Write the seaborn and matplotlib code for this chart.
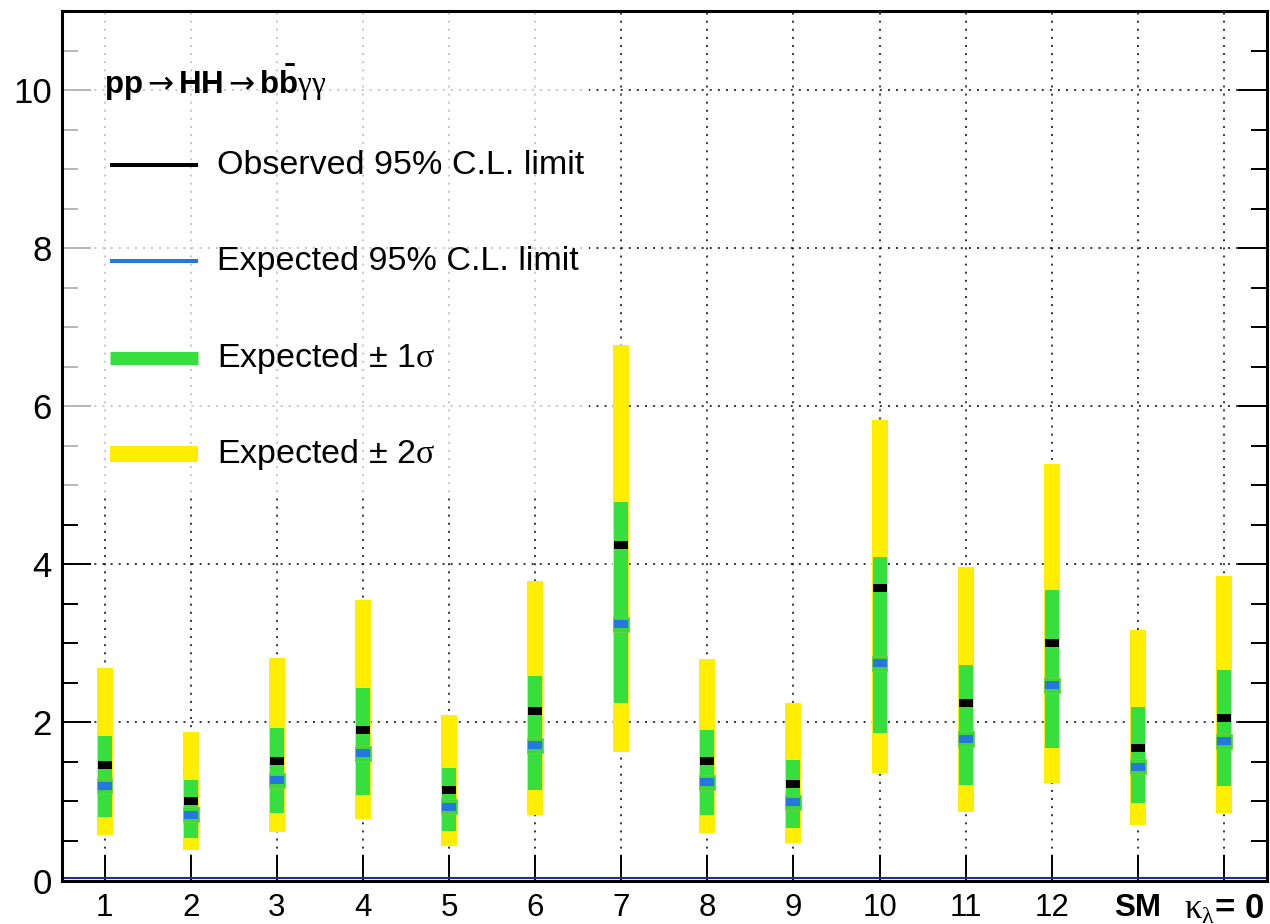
import numpy as np
import pandas as pd
import matplotlib
matplotlib.use("Agg")
import matplotlib.pyplot as plt
import seaborn as sns
from matplotlib.patches import Rectangle
from matplotlib.path import Path
from matplotlib.markers import MarkerStyle
from matplotlib.ticker import MultipleLocator

# ---------------- data ----------------
categories = ["1", "2", "3", "4", "5", "6", "7", "8", "9", "10", "11", "12",
              "SM", r"$\kappa_{\lambda}$= 0"]
observed = [1.46, 1.01, 1.51, 1.91, 1.14, 2.15, 4.25, 1.51, 1.22, 3.70, 2.25, 3.01, 1.68, 2.06]
expected = [1.20, 0.83, 1.27, 1.61, 0.93, 1.71, 3.24, 1.24, 0.99, 2.75, 1.79, 2.47, 1.44, 1.76]
exp_minus1 = [0.80, 0.54, 0.85, 1.08, 0.62, 1.15, 2.24, 0.83, 0.67, 1.87, 1.21, 1.68, 0.98, 1.20]
exp_plus1 = [1.83, 1.27, 1.93, 2.44, 1.42, 2.59, 4.79, 1.90, 1.52, 4.09, 2.72, 3.68, 2.19, 2.66]
exp_minus2 = [0.57, 0.39, 0.61, 0.78, 0.44, 0.83, 1.63, 0.60, 0.48, 1.36, 0.87, 1.23, 0.70, 0.86]
exp_plus2 = [2.69, 1.88, 2.82, 3.55, 2.10, 3.79, 6.78, 2.80, 2.24, 5.83, 3.96, 5.27, 3.17, 3.85]

legend_header = ("pp$\\mathsf{\\rightarrow}$HH$\\mathsf{\\rightarrow}$"
                 "b$\\mathbf{\\bar{b}}$$\\gamma\\gamma$")
legend_labels = ["Observed 95% C.L. limit", "Expected 95% C.L. limit",
                 "Expected \u00b1 1$\\sigma$", "Expected \u00b1 2$\\sigma$"]

# ---------------- style ----------------
sns.set_theme(style="ticks")
plt.rcParams["font.family"] = ["Liberation Sans", "DejaVu Sans"]
plt.rcParams["mathtext.fontset"] = "custom"
plt.rcParams["mathtext.rm"] = "Liberation Serif"
plt.rcParams["mathtext.it"] = "Liberation Serif"
plt.rcParams["mathtext.sf"] = "DejaVu Sans"
plt.rcParams["mathtext.bf"] = "Liberation Sans:bold"
for k in ["text.color", "axes.labelcolor", "xtick.color", "ytick.color", "axes.edgecolor"]:
    plt.rcParams[k] = "black"

YELLOW = "#FFEE00"
GREEN = "#36DE3E"
BLUE = "#2477DD"

df = pd.DataFrame({
    "cat": categories,
    "x": np.arange(1, len(categories) + 1),
    "obs": observed, "exp": expected,
    "m1": exp_minus1, "p1": exp_plus1, "m2": exp_minus2, "p2": exp_plus2,
})

fig = plt.figure(figsize=(12.7, 9.24), dpi=100)
ax = fig.add_axes([61.5 / 1270, 1 - 880.5 / 924, 1205.5 / 1270, (880.5 - 11) / 924])
ax.set_xlim(0.5, 14.5)
ax.set_ylim(0, 11)

# grid
ax.set_axisbelow(True)
ax.grid(True, which="major", color="black", linestyle=(0, (1.3, 4.0)), linewidth=1.1)

# translucent legend box over grid
ax.add_patch(Rectangle((0, 0.446), 0.4378, 0.554, transform=ax.transAxes,
                       facecolor="white", edgecolor="none", alpha=0.72, zorder=1))

# bands
ax.bar(df["x"], df["p2"] - df["m2"], bottom=df["m2"], width=0.186,
       color=YELLOW, edgecolor="none", zorder=3)
ax.bar(df["x"], df["p1"] - df["m1"], bottom=df["m1"], width=0.163,
       color=GREEN, edgecolor="none", zorder=4)
# small green halo around expected marker
ax.bar(df["x"], 0.19, bottom=df["exp"] - 0.095, width=0.184,
       color="#3AD83C", edgecolor="#6FD23A", linewidth=0.6, zorder=4.5)

rect = Path([(-1, -0.58), (1, -0.58), (1, 0.58), (-1, 0.58), (-1, -0.58)],
            [Path.MOVETO, Path.LINETO, Path.LINETO, Path.LINETO, Path.CLOSEPOLY])
mk = MarkerStyle(rect)
sns.scatterplot(data=df, x="x", y="exp", marker=mk, s=90, color=BLUE,
                linewidth=0, ax=ax, zorder=5, legend=False)
sns.scatterplot(data=df, x="x", y="obs", marker=mk, s=90, color="black",
                linewidth=0, ax=ax, zorder=6, legend=False)

# blue zero line
ax.axhline(0.032, color="#1F2A9C", linewidth=1.5, zorder=7)

# ticks
ax.set_xticks(df["x"])
ax.set_xticklabels(categories)
ax.yaxis.set_major_locator(MultipleLocator(2))
ax.yaxis.set_minor_locator(MultipleLocator(0.5))
ax.tick_params(axis="x", which="major", direction="in", length=19, width=1.4,
               bottom=True, top=False, labelsize=22.5, pad=9, colors="black")
ax.tick_params(axis="x", which="minor", bottom=False, top=False)
ax.tick_params(axis="y", which="major", direction="in", length=21, width=1.4,
               left=True, right=True, labelsize=25, pad=7, colors="black")
ax.tick_params(axis="y", which="minor", direction="in", length=11.5, width=1.4,
               left=True, right=True)
xlabs = ax.get_xticklabels()
for lab in xlabs[-2:]:
    lab.set_fontweight("bold")
xlabs[-1].set_fontsize(25)
xlabs[-1].set_x(14.08)
ax.set_xlabel("")
ax.set_ylabel("")
for sp in ax.spines.values():
    sp.set_visible(True)
    sp.set_linewidth(2.2)
    sp.set_color("black")
    sp.set_zorder(8)

# legend (drawn manually in axes coordinates)
def ax_x(px):
    return (px - 61.5) / 1205.5

def ax_y(py):
    return (880.5 - py) / 869.5

ax.text(ax_x(104), ax_y(83), legend_header, transform=ax.transAxes,
        fontsize=22.5, fontweight="bold", ha="left", va="center", zorder=9,
        color="black")
rows = [165, 261, 358, 454]
styles = [dict(color="black", lw=2.9), dict(color=BLUE, lw=2.9),
          dict(color=GREEN, lw=9.4), dict(color=YELLOW, lw=11.5)]
for py, label, st in zip(rows, legend_labels, styles):
    ax.plot([ax_x(110), ax_x(198)], [ax_y(py), ax_y(py)], transform=ax.transAxes,
            solid_capstyle="butt", zorder=9, **st)
    ax.text(ax_x(217), ax_y(py), label, transform=ax.transAxes, fontsize=24.5,
            ha="left", va="center", zorder=9, color="black")

fig.savefig("out.png", dpi=100)
